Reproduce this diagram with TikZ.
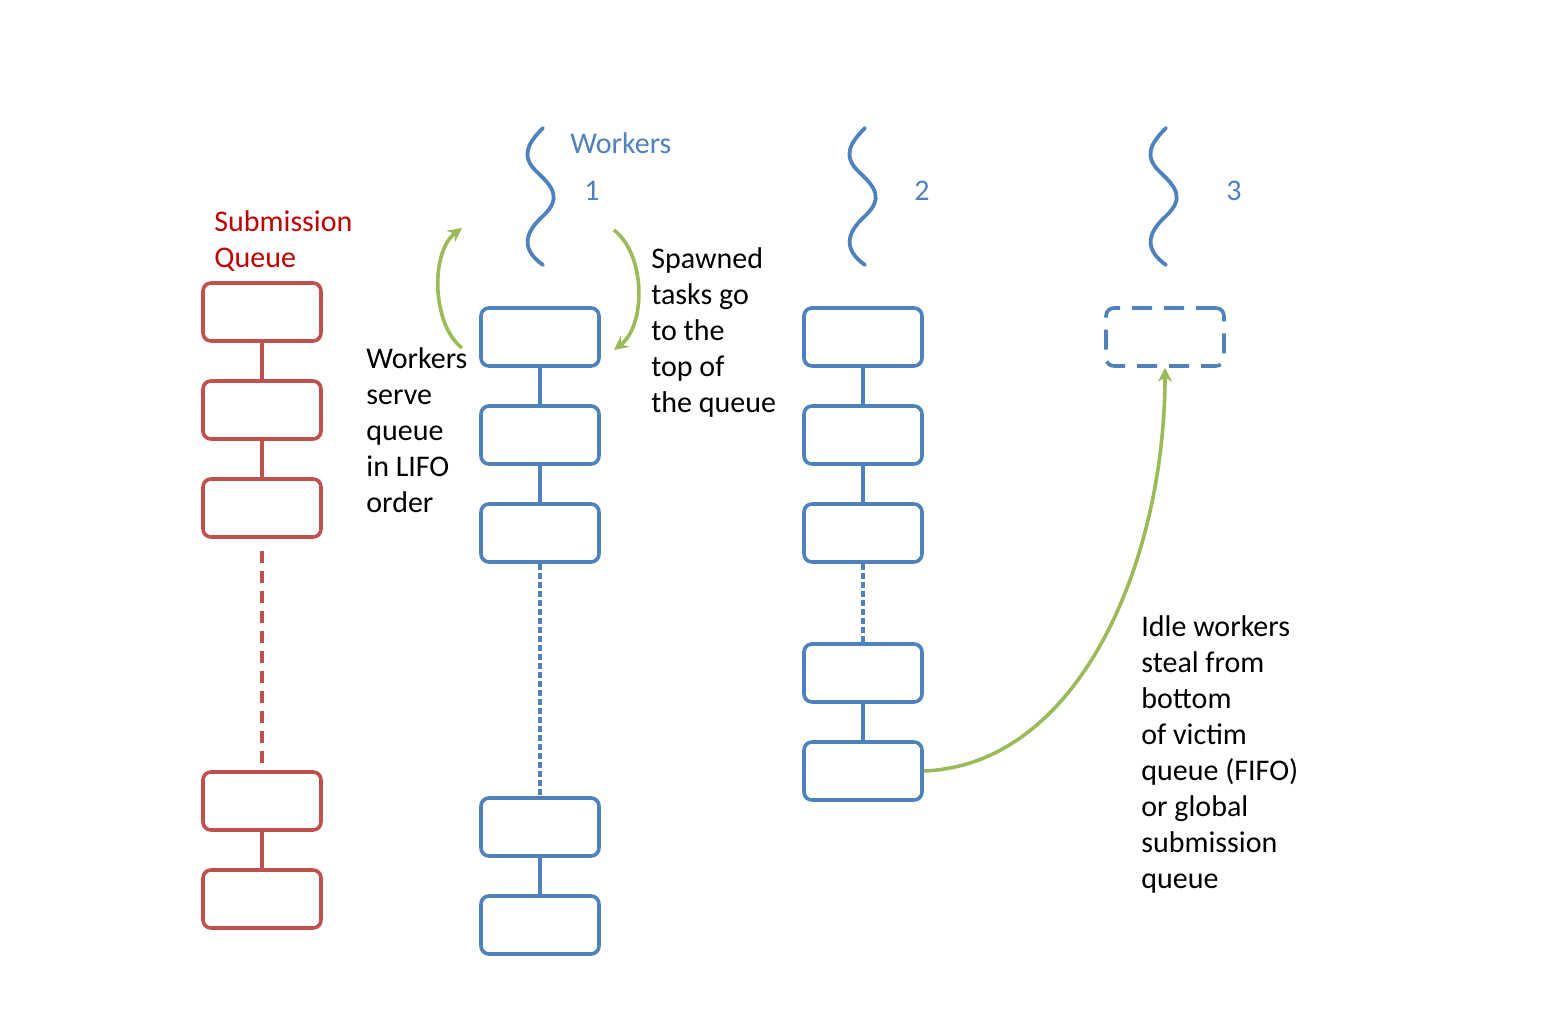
\documentclass[tikz,border=0pt]{standalone}
\usepackage{fontspec}
\setmainfont{Carlito}
\usetikzlibrary{arrows.meta}
\definecolor{oblue}{HTML}{4F81BD}
\definecolor{ored}{HTML}{C0504D}
\definecolor{ogreen}{HTML}{9BBB59}
\definecolor{tred}{HTML}{C00000}
\begin{document}
\begin{tikzpicture}[x=0.5pt,y=-0.5pt,
  task/.style={draw,line width=1.8pt,rounded corners=4pt,minimum width=59pt,minimum height=29pt,inner sep=0pt,fill=white},
  rtask/.style={task,draw=ored},
  btask/.style={task,draw=oblue},
  dtask/.style={task,draw=oblue,dash pattern=on 10pt off 6pt},
  rlink/.style={draw=ored,line width=1.8pt},
  blink/.style={draw=oblue,line width=1.8pt},
  wave/.style={draw=oblue,line width=1.9pt,line cap=round},
  garrow/.style={draw=ogreen,line width=1.8pt,-{Stealth[length=7pt,width=7pt]}},
  txt/.style={font=\fontsize{15}{18}\selectfont,align=left,anchor=north west,inner sep=0pt},
]
\path[use as bounding box] (0,0) rectangle (1559,1022);

% submission queue
\node[rtask] (r1) at (262,312) {};
\node[rtask] (r2) at (262,410) {};
\node[rtask] (r3) at (262,508) {};
\node[rtask] (r4) at (262,801) {};
\node[rtask] (r5) at (262,899) {};
\draw[rlink] (r1) -- (r2);
\draw[rlink] (r2) -- (r3);
\draw[rlink,dash pattern=on 6pt off 4pt] (r3.south) ++(0,12) coordinate (r3d) (r3d) -- (r4);
\draw[rlink] (r4) -- (r5);

% worker 1
\node[btask] (a1) at (540,337) {};
\node[btask] (a2) at (540,435) {};
\node[btask] (a3) at (540,533) {};
\node[btask] (a4) at (540,827) {};
\node[btask] (a5) at (540,925) {};
\draw[blink] (a1) -- (a2);
\draw[blink] (a2) -- (a3);
\draw[blink,dash pattern=on 3pt off 1.5pt] (a3) -- (a4);
\draw[blink] (a4) -- (a5);

% worker 2
\node[btask] (b1) at (863,337) {};
\node[btask] (b2) at (863,435) {};
\node[btask] (b3) at (863,533) {};
\node[btask] (b4) at (863,673) {};
\node[btask] (b5) at (863,771) {};
\draw[blink] (b1) -- (b2);
\draw[blink] (b2) -- (b3);
\draw[blink,dash pattern=on 3pt off 1.5pt] (b3) -- (b4);
\draw[blink] (b4) -- (b5);

% worker 3 (empty)
\node[dtask] (c1) at (1165,337) {};

% waves
\draw[wave] (543,128) .. controls (528,143) and (520,156) .. (537,172) .. controls (553,187) and (562,198) .. (543,216) .. controls (523,234) and (522,250) .. (543,265);
\draw[wave] (865,128) .. controls (850,143) and (842,156) .. (859,172) .. controls (875,187) and (884,198) .. (865,216) .. controls (845,234) and (844,250) .. (865,265);
\draw[wave] (1166,128) .. controls (1151,143) and (1143,156) .. (1160,172) .. controls (1176,187) and (1185,198) .. (1166,216) .. controls (1146,234) and (1145,250) .. (1166,265);

% labels
\node[txt,text=oblue] (wk) at (570,132) {Workers};
\node[font=\fontsize{15}{18}\selectfont,text=oblue] (n1) at (592,191) {1};
\node[font=\fontsize{15}{18}\selectfont,text=oblue] (n2) at (922,191) {2};
\node[font=\fontsize{15}{18}\selectfont,text=oblue] (n3) at (1234,191) {3};
\node[txt,text=tred] (sq) at (214,210) {Submission\\Queue};
\node[txt] (t1) at (366,347) {Workers\\serve\\queue\\in LIFO\\order};
\node[txt] (t2) at (651,247) {Spawned\\tasks go\\to the\\top of\\the queue};
\node[txt] (t3) at (1141,615) {Idle workers\\steal from\\bottom\\of victim\\queue (FIFO)\\or global\\submission\\queue};

% arrows
\coordinate (l1) at (462,348);
\coordinate (l2) at (462,228);
\coordinate (s1) at (614,230);
\coordinate (s2) at (614,350);
\draw[garrow] (l1) .. controls (432,325) and (430,252) .. (l2);
\draw[garrow] (s1) .. controls (646,255) and (646,325) .. (s2);
\draw[garrow] (b5.east) .. controls (1080,765) and (1165,560) .. (c1.south);
\end{tikzpicture}
\end{document}
